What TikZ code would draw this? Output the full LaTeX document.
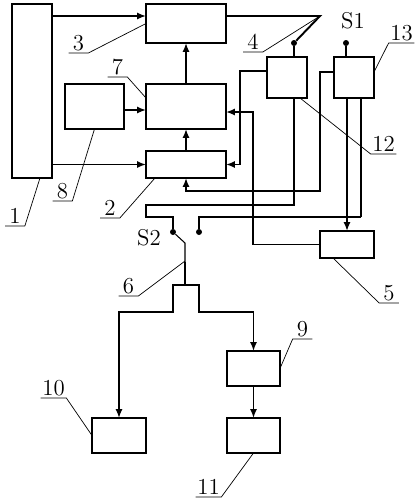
\documentclass[tikz,border=0pt]{standalone}
\usepackage{tikz}
\usetikzlibrary{arrows.meta}

\begin{document}
\begin{tikzpicture}[
    x=0.02cm, y=-0.02cm,
    box/.style={draw, line width=1.1pt, inner sep=0pt, outer sep=0pt},
    wire/.style={line width=1.1pt},
    fine/.style={line width=0.6pt},
    arr/.style={wire, -{Latex[length=5pt,width=4pt]}},
    leader/.style={line width=0.4pt},
    tag/.style={font=\fontsize{13}{15}\selectfont, anchor=south, inner xsep=0pt, inner ysep=1pt, minimum width=0.38cm},
    tagw/.style={tag, minimum width=0.5cm},
    knob/.style={circle, fill, inner sep=0pt, minimum size=0.12cm}
  ]
    \useasboundingbox (0,0) rectangle (416,504);
    % blocks
    \node[box, minimum width=0.8cm, minimum height=3.48cm] (b1) at (32,91) {};
    \node[box, minimum width=1.6cm, minimum height=0.78cm] (b3) at (186,23.5) {};
    \node[box, minimum width=1.6cm, minimum height=0.9cm] (b7) at (186,106.5) {};
    \node[box, minimum width=1.18cm, minimum height=0.9cm] (b8) at (94.5,106.5) {};
    \node[box, minimum width=1.6cm, minimum height=0.54cm] (b2) at (186,164.5) {};
    \node[box, minimum width=0.8cm, minimum height=0.82cm] (b12) at (287,77.5) {};
    \node[box, minimum width=0.8cm, minimum height=0.82cm] (b13) at (354,77.5) {};
    \node[box, minimum width=1.08cm, minimum height=0.54cm] (b5) at (347,244.5) {};
    \node[box, minimum width=1.06cm, minimum height=0.7cm] (b9) at (253.5,368.5) {};
    \node[box, minimum width=1.08cm, minimum height=0.7cm] (b10) at (119,435.5) {};
    \node[box, minimum width=1.06cm, minimum height=0.7cm] (b11) at (253.5,435.5) {};
    % switch contacts
    \node[knob] (k4) at (294,43) {};
    \node[knob] (k1) at (346,43) {};
    \node[knob] (s2a) at (173,232) {};
    \node[knob] (s2b) at (199,232) {};
    \coordinate (sw4) at (320,16);
    \coordinate (sw6) at (185,261);
    % signal paths
    \draw[arr] (b1.east |- sw4) -- (b3.west |- sw4);
    \draw[arr] (b1.east |- b2.west) -- (b2.west);
    \draw[arr] (b8.east |- 0,110) -- (b7.west |- 0,110);
    \draw[arr] (b7.north) -- (b3.south);
    \draw[arr] (b2.north) -- (b7.south);
    \draw[wire] (b3.east |- sw4) -- (sw4) -- (k4);
    \draw[wire] (k4) -- (k4 |- b12.north);
    \draw[wire] (k1) -- (k1 |- b13.north);
    \draw[arr] (b12.west |- 0,71) -- ++(-27,0) |- (b2.east);
    \draw[arr] (b13.west |- 0,72) -| (320,191) -| (b2.south);
    \draw[arr] (b5.west) -| (253,112) -- (b7.east |- 0,112);
    \draw[arr] (b5.north |- b13.south) -- (b5.north);
    \draw[fine] (k4 |- b12.south) -- (294,205) -- (146,205) -- (146,217) -| (s2a);
    \draw[fine] (b13.south -| 361,0) -- (361,217);
    \draw[wire] (361,217) -| (s2b);
    % switch S2 and outputs
    \draw[fine] (s2a) -- (185,243) -- (185,262);
    \draw[wire] (185,262) -- (185,285);
    \draw[arr] (185,285) -- (173,285) -- (173,312) -| (b10.north);
    \draw[arr] (173,285) -- (199,285) -- (199,312) -| (b9.north);
    \draw[arr] (b9.south) -- (b11.north);
    % reference numbers
    \node[tag] (l1) at (15,226) {1};
    \node[tag] (l8) at (62.5,201) {8};
    \node[tag] (l2) at (110,218) {2};
    \node[tag] (l3) at (78.5,53) {3};
    \node[tag] (l7) at (117.5,77) {7};
    \node[tag] (l4) at (253,52) {4};
    \node[tagw] (l13) at (401.5,43) {13};
    \node[tagw] (l12) at (383.5,154) {12};
    \node[tag] (l5) at (389,303) {5};
    \node[tag] (l6) at (128.5,296) {6};
    \node[tag] (l9) at (302.5,339) {9};
    \node[tagw] (l10) at (53.5,398) {10};
    \node[tagw] (l11) at (208.5,497) {11};
    \node[tag, anchor=center] (ls1) at (353,21) {S1};
    \node[tag, anchor=center] (ls2) at (149,238) {S2};
    \draw[leader] (l1.south west) -- (l1.south east) -- (b1.south -| 40,0);
    \draw[leader] (l8.south west) -- (l8.south east) -- (b8.south);
    \draw[leader] (l2.south west) -- (l2.south east) -- (b2.south -| 155,0);
    \draw[leader] (l3.south west) -- (l3.south east) -- (b3.west);
    \draw[leader] (l7.south west) -- (l7.south east) -- (b7.west |- 0,98);
    \draw[leader] (l4.south west) -- (l4.south east) -- (sw4);
    \draw[leader] (l13.south east) -- (l13.south west) -- (b13.east |- 0,72);
    \draw[leader] (l12.south east) -- (l12.south west) -- (b12.south -| 300,0);
    \draw[leader] (l5.south east) -- (l5.south west) -- (b5.south -| 333,0);
    \draw[leader] (l6.south west) -- (l6.south east) -- (sw6);
    \draw[leader] (l9.south east) -- (l9.south west) -- (b9.east);
    \draw[leader] (l10.south west) -- (l10.south east) -- (b10.west);
    \draw[leader] (l11.south west) -- (l11.south east) -- (b11.south);
  \end{tikzpicture}
\end{document}
